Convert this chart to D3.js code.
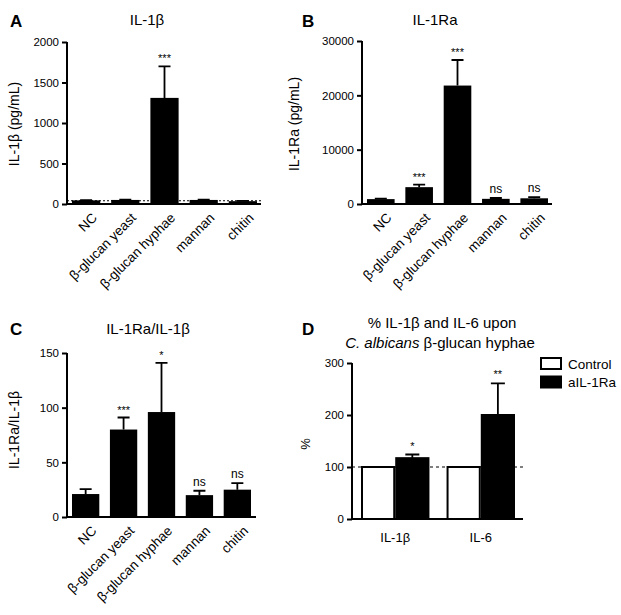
<!DOCTYPE html>
<html>
<head>
<meta charset="utf-8">
<script src="https://cdn.jsdelivr.net/npm/d3@7"></script>
<style>
  body { margin: 0; background: #fff; }
  svg { font-family: Arial, "Liberation Sans", sans-serif; }
  .axis path, .axis line { stroke: #000; stroke-width: 2; }
  .axis text { font-size: 11.5px; fill: #000; }
</style>
</head>
<body>
<svg width="621" height="615"></svg>
<script>
// categories for panels A-C
var categories = ["NC", "β-glucan yeast", "β-glucan hyphae", "mannan", "chitin"];

// A: IL-1b (pg/mL)
var il1bMean = [45, 50, 1310, 50, 35];
var il1bErr = [4, 4, 390, 4, 3];
var il1bSig = ["", "", "***", "", ""];
var il1bTicks = [0, 500, 1000, 1500, 2000];

// B: IL-1Ra (pg/mL)
var il1raMean = [900, 3100, 21800, 950, 1050];
var il1raErr = [80, 450, 4700, 150, 200];
var il1raSig = ["", "***", "***", "ns", "ns"];
var il1raTicks = [0, 10000, 20000, 30000];

// C: ratio IL-1Ra/IL-1b
var ratioMean = [21, 80, 96, 20, 25];
var ratioErr = [4.5, 11, 45, 4, 6];
var ratioSig = ["", "***", "*", "ns", "ns"];
var ratioTicks = [0, 50, 100, 150];

// D: % upon beta-glucan hyphae
var groups = ["IL-1β", "IL-6"];
var series = ["Control", "aIL-1Ra"];
var controlPct = [100, 100];
var antagonistPct = [117, 200];
var antagonistErr = [7, 61];
var pctSig = ["*", "**"];
var pctTicks = [0, 100, 200, 300];

var svg = d3.select("svg");

function barPanel(opt) {
  var g = svg.append("g");
  var x = d3.scaleBand().domain(categories).range(opt.xr).paddingInner(0.28).paddingOuter(0);
  var y = d3.scaleLinear().domain(opt.domain).range(opt.yr);

  // baseline dotted line (panel A)
  if (opt.dotted != null) {
    g.append("line")
      .attr("x1", opt.axisX).attr("x2", opt.axisEnd)
      .attr("y1", y(opt.dotted)).attr("y2", y(opt.dotted))
      .attr("stroke", "#000").attr("stroke-width", 1.2)
      .attr("stroke-dasharray", "2,2");
  }

  var data = categories.map(function(c, i) {
    return {c: c, v: opt.mean[i], e: opt.err[i], s: opt.sig[i]};
  });

  // error bars (upper only)
  g.selectAll(".err").data(data).enter().append("path")
    .attr("fill", "none").attr("stroke", "#000").attr("stroke-width", 1.8)
    .attr("d", function(d) {
      var cx = x(d.c) + x.bandwidth() / 2;
      return "M" + cx + "," + y(d.v) + "V" + y(d.v + d.e) +
             "M" + (cx - 6) + "," + y(d.v + d.e) + "H" + (cx + 6);
    });

  g.selectAll(".bar").data(data).enter().append("rect")
    .attr("x", function(d) { return x(d.c); })
    .attr("width", x.bandwidth())
    .attr("y", function(d) { return y(d.v); })
    .attr("height", function(d) { return y(0) - y(d.v); })
    .attr("fill", "#000");

  g.selectAll(".sig").data(data).enter().append("text")
    .attr("x", function(d) { return x(d.c) + x.bandwidth() / 2; })
    .attr("y", function(d) { return y(d.v + d.e) - (d.s == "ns" ? 5 : 4); })
    .attr("text-anchor", "middle")
    .attr("font-size", function(d) { return d.s == "ns" ? 12 : 11; })
    .text(function(d) { return d.s; });

  // y axis
  var ya = g.append("g").attr("class", "axis")
    .attr("transform", "translate(" + opt.axisX + ",0)")
    .call(d3.axisLeft(y).tickValues(opt.ticks).tickFormat(d3.format("d"))
      .tickSize(5).tickPadding(3).tickSizeOuter(0));
  ya.select(".domain").attr("d", "M0," + (y(0) + 1) + "V" + y(opt.domain[1]));

  // x axis line
  g.append("line")
    .attr("x1", opt.axisX - 1).attr("x2", opt.axisEnd)
    .attr("y1", y(0)).attr("y2", y(0))
    .attr("stroke", "#000").attr("stroke-width", 2);

  // category labels
  g.selectAll(".xl").data(categories).enter().append("text")
    .attr("transform", function(c) {
      return "translate(" + (x(c) + x.bandwidth() / 2 + 5) + "," + (y(0) + 8) + ") rotate(-45)";
    })
    .attr("text-anchor", "end")
    .attr("dy", "0.7em")
    .attr("font-size", 13.5)
    .text(function(c) { return c; });

  // title
  g.append("text")
    .attr("x", opt.titleX).attr("y", opt.titleY)
    .attr("text-anchor", "middle").attr("font-size", 15)
    .text(opt.title);

  // y label
  g.append("text")
    .attr("transform", "translate(" + opt.labX + "," + opt.labY + ") rotate(-90)")
    .attr("text-anchor", "middle").attr("font-size", 14)
    .text(opt.ylabel);

  // panel letter
  g.append("text")
    .attr("x", opt.letterX).attr("y", opt.letterY)
    .attr("font-size", 17).attr("font-weight", "bold")
    .text(opt.letter);
}

barPanel({
  letter: "A", letterX: 10, letterY: 27,
  title: "IL-1β", titleX: 147, titleY: 25,
  ylabel: "IL-1β (pg/mL)", labX: 19, labY: 124,
  mean: il1bMean, err: il1bErr, sig: il1bSig, ticks: il1bTicks,
  domain: [0, 2000], yr: [204, 42],
  xr: [72, 257], axisX: 67, axisEnd: 261, dotted: 40
});

barPanel({
  letter: "B", letterX: 302, letterY: 27,
  title: "IL-1Ra", titleX: 435, titleY: 25,
  ylabel: "IL-1Ra (pg/mL)", labX: 299, labY: 124,
  mean: il1raMean, err: il1raErr, sig: il1raSig, ticks: il1raTicks,
  domain: [0, 30000], yr: [204, 41],
  xr: [367, 548], axisX: 362, axisEnd: 552, dotted: null
});

barPanel({
  letter: "C", letterX: 10, letterY: 335,
  title: "IL-1Ra/IL-1β", titleX: 148, titleY: 334,
  ylabel: "IL-1Ra/IL-1β", labX: 19, labY: 430,
  mean: ratioMean, err: ratioErr, sig: ratioSig, ticks: ratioTicks,
  domain: [0, 150], yr: [517, 353],
  xr: [72, 251], axisX: 67, axisEnd: 256, dotted: null
});

// panel D: grouped bars
(function() {
  var g = svg.append("g");
  var x0 = d3.scaleBand().domain(groups).range([361, 515]).paddingInner(0.2).paddingOuter(0);
  var x1 = d3.scaleBand().domain(series).range([0, x0.bandwidth()]);
  var y = d3.scaleLinear().domain([0, 300]).range([519, 363]);
  var axisX = 352, axisEnd = 523;

  g.append("line")
    .attr("x1", axisX).attr("x2", axisEnd)
    .attr("y1", y(100)).attr("y2", y(100))
    .attr("stroke", "#000").attr("stroke-width", 1.2)
    .attr("stroke-dasharray", "3,3");

  var data = [];
  groups.forEach(function(gr, i) {
    data.push({g: gr, s: series[0], v: controlPct[i], e: 0, sig: ""});
    data.push({g: gr, s: series[1], v: antagonistPct[i], e: antagonistErr[i], sig: pctSig[i]});
  });

  g.selectAll(".err").data(data.filter(function(d) { return d.e > 0; })).enter().append("path")
    .attr("fill", "none").attr("stroke", "#000").attr("stroke-width", 1.8)
    .attr("d", function(d) {
      var cx = x0(d.g) + x1(d.s) + x1.bandwidth() / 2;
      return "M" + cx + "," + y(d.v) + "V" + y(d.v + d.e) +
             "M" + (cx - 7) + "," + y(d.v + d.e) + "H" + (cx + 7);
    });

  g.selectAll(".bar").data(data).enter().append("rect")
    .attr("x", function(d) { return x0(d.g) + x1(d.s) + 1; })
    .attr("width", x1.bandwidth() - 2)
    .attr("y", function(d) { return y(d.v); })
    .attr("height", function(d) { return y(0) - y(d.v); })
    .attr("fill", function(d) { return d.s == "Control" ? "#fff" : "#000"; })
    .attr("stroke", "#000").attr("stroke-width", 2);

  g.selectAll(".sig").data(data.filter(function(d) { return d.sig; })).enter().append("text")
    .attr("x", function(d) { return x0(d.g) + x1(d.s) + x1.bandwidth() / 2; })
    .attr("y", function(d) { return y(d.v + d.e) - 5; })
    .attr("text-anchor", "middle").attr("font-size", 11)
    .text(function(d) { return d.sig; });

  var ya = g.append("g").attr("class", "axis")
    .attr("transform", "translate(" + axisX + ",0)")
    .call(d3.axisLeft(y).tickValues(pctTicks).tickFormat(d3.format("d"))
      .tickSize(5).tickPadding(3).tickSizeOuter(0));
  ya.select(".domain").attr("d", "M0," + (y(0) + 1) + "V" + y(300));

  g.append("line")
    .attr("x1", axisX - 1).attr("x2", axisEnd)
    .attr("y1", y(0)).attr("y2", y(0))
    .attr("stroke", "#000").attr("stroke-width", 2);

  g.selectAll(".xl").data(groups).enter().append("text")
    .attr("x", function(d) { return x0(d) + x0.bandwidth() / 2; })
    .attr("y", y(0) + 23)
    .attr("text-anchor", "middle").attr("font-size", 13)
    .text(function(d) { return d; });

  var t = g.append("text").attr("text-anchor", "middle").attr("font-size", 15);
  t.append("tspan").attr("x", 442).attr("y", 328).text("% IL-1β and IL-6 upon");
  var t2 = g.append("text").attr("text-anchor", "middle").attr("font-size", 15)
    .attr("x", 440).attr("y", 348);
  t2.append("tspan").attr("font-style", "italic").text("C. albicans");
  t2.append("tspan").text(" β-glucan hyphae");

  g.append("text")
    .attr("transform", "translate(310,444) rotate(-90)")
    .attr("text-anchor", "middle").attr("font-size", 13)
    .text("%");

  g.append("text").attr("x", 302).attr("y", 335)
    .attr("font-size", 17).attr("font-weight", "bold").text("D");

  var leg = g.selectAll(".leg").data(series).enter().append("g")
    .attr("transform", function(d, i) { return "translate(541," + (358 + i * 18.5) + ")"; });
  leg.append("rect")
    .attr("width", 20).attr("height", 11)
    .attr("fill", function(d) { return d == "Control" ? "#fff" : "#000"; })
    .attr("stroke", "#000").attr("stroke-width", 2);
  leg.append("text")
    .attr("x", 27).attr("y", 10.5).attr("font-size", 13.5)
    .text(function(d) { return d; });
})();
</script>
</body>
</html>
